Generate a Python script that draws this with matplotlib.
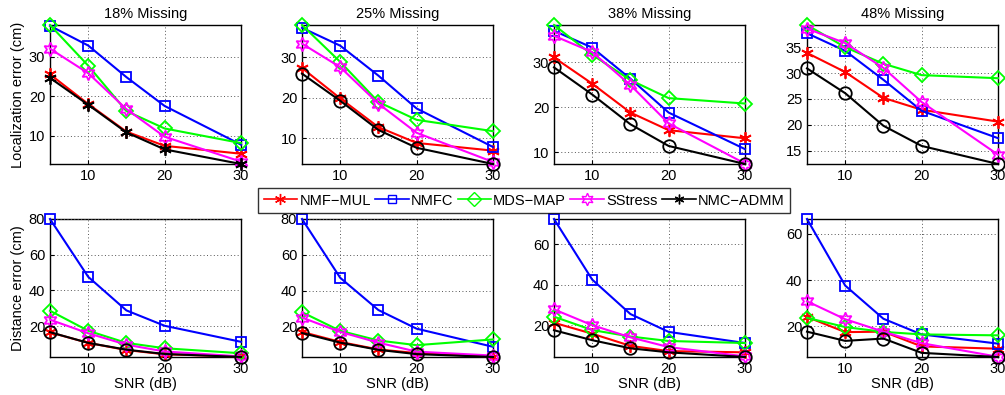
import matplotlib
matplotlib.use("Agg")
import matplotlib.pyplot as plt
from matplotlib.lines import Line2D

plt.rcParams['font.family'] = ['Liberation Sans', 'DejaVu Sans']

snr = [5, 10, 15, 20, 30]
xticks = [10, 20, 30]
titles = ["18% Missing", "25% Missing", "38% Missing", "48% Missing"]
methods = ["NMF\u2212MUL", "NMFC", "MDS\u2212MAP", "SStress", "NMC\u2212ADMM"]

# Localization error (cm), one list per panel: [NMF-MUL, NMFC, MDS-MAP, SStress, NMC-ADMM]
loc_18 = [[25.5, 18.0, 11.0, 7.4, 5.4],
          [37.8, 32.8, 24.8, 17.5, 7.7],
          [38.0, 27.7, 16.2, 11.8, 8.1],
          [32.0, 25.8, 16.7, 9.7, 3.4],
          [24.6, 17.8, 10.8, 6.5, 2.8]]
loc_25 = [[27.4, 19.9, 12.8, 8.9, 7.0],
          [37.3, 32.9, 25.5, 17.4, 7.9],
          [38.0, 28.9, 19.0, 14.6, 11.8],
          [33.4, 27.6, 18.6, 11.4, 4.2],
          [26.0, 19.3, 12.1, 7.7, 3.7]]
loc_38 = [[31.0, 25.2, 18.8, 14.9, 13.1],
          [36.9, 33.2, 26.3, 18.8, 10.7],
          [38.2, 31.6, 26.0, 22.0, 20.8],
          [35.8, 32.2, 24.9, 16.4, 7.5],
          [28.8, 22.8, 16.2, 11.4, 7.4]]
loc_48 = [[33.9, 30.2, 25.2, 22.9, 20.6],
          [37.7, 34.3, 28.7, 22.7, 17.4],
          [39.3, 35.0, 31.8, 29.6, 29.0],
          [38.6, 35.8, 31.0, 24.4, 14.2],
          [30.9, 26.1, 19.8, 15.9, 12.4]]

# Distance error (cm)
dist_18 = [[16.5, 10.6, 6.6, 4.2, 3.0],
           [80.0, 47.6, 28.8, 20.2, 11.2],
           [28.6, 17.4, 10.6, 7.6, 4.8],
           [23.6, 16.0, 9.6, 5.8, 3.0],
           [16.6, 10.6, 6.8, 4.4, 2.7]]
dist_25 = [[17.0, 11.4, 7.2, 5.2, 3.2],
           [80.0, 47.2, 29.2, 18.8, 8.7],
           [28.0, 17.6, 12.2, 9.6, 12.8],
           [25.0, 17.0, 11.0, 6.0, 3.8],
           [16.4, 11.0, 7.0, 4.6, 3.0]]
dist_38 = [[21.2, 15.8, 9.8, 7.2, 6.6],
           [72.4, 42.5, 25.5, 16.7, 11.2],
           [24.2, 17.6, 14.4, 12.2, 11.2],
           [27.8, 20.0, 14.0, 9.2, 4.6],
           [17.5, 12.6, 8.6, 6.6, 4.3]]
dist_48 = [[24.0, 17.4, 17.6, 11.2, 10.2],
           [66.5, 37.6, 23.2, 16.4, 12.4],
           [23.6, 19.6, 17.5, 16.4, 16.0],
           [30.8, 23.0, 17.6, 12.6, 6.7],
           [17.6, 13.6, 14.6, 8.4, 6.6]]

loc_data = [loc_18, loc_25, loc_38, loc_48]
dist_data = [dist_18, dist_25, dist_38, dist_48]
loc_yticks = [[10, 20, 30], [10, 20, 30], [10, 20, 30], [15, 20, 25, 30, 35]]
dist_yticks = [[20, 40, 60, 80], [20, 40, 60, 80], [20, 40, 60], [20, 40, 60]]

colors = ['#ff0000', '#0000ff', '#00ff00', '#ff00ff', '#000000']
asterisk = (6, 2, 0)
hexagram = (6, 1, 0)
markers = [asterisk, 's', 'D', hexagram, 'o']
msizes = [9, 7, 7, 10, 9]

fig = plt.figure(figsize=(10.05, 3.95), dpi=100)
lefts = [50, 302, 554, 807]
W, H = 1005.0, 395.0
aw = 191

def style(ax, yt):
    ax.set_xlim(5, 30)
    ax.set_xticks(xticks)
    ax.set_yticks(yt)
    ax.grid(True, linestyle=(0, (1, 2.5)), color='#555555', linewidth=0.7)
    ax.tick_params(direction='in', length=3, labelsize=10.5, width=0.8)
    for s in ax.spines.values():
        s.set_linewidth(1.0)
        s.set_color('black')
        s.set_zorder(1)

for c in range(4):
    # top row
    ax = fig.add_axes([lefts[c] / W, 1 - 164 / H, aw / W, 139 / H])
    allv = []
    for k in range(5):
        mk = markers[k]
        if k == 4 and c == 0:
            mk = asterisk
        ax.plot(snr, loc_data[c][k], color=colors[k], marker=mk, ms=msizes[k],
                mfc='none', mec=colors[k], mew=1.3, lw=1.5, clip_on=False, zorder=3)
        allv += loc_data[c][k]
    ax.set_ylim(min(allv), max(allv))
    style(ax, loc_yticks[c])
    ax.set_title(titles[c], fontsize=10.5, pad=5)
    if c == 0:
        ax.set_ylabel("Localization error (cm)", fontsize=10.5, labelpad=3)

    # bottom row
    ax2 = fig.add_axes([lefts[c] / W, 1 - 357 / H, aw / W, 138 / H])
    allv = []
    for k in range(5):
        ax2.plot(snr, dist_data[c][k], color=colors[k], marker=markers[k], ms=msizes[k],
                 mfc='none', mec=colors[k], mew=1.3, lw=1.5, clip_on=False, zorder=3)
        allv += dist_data[c][k]
    ax2.set_ylim(min(allv), max(allv))
    style(ax2, dist_yticks[c])
    ax2.set_xlabel("SNR (dB)", fontsize=10.5, labelpad=1)
    if c == 0:
        ax2.set_ylabel("Distance error (cm)", fontsize=10.5, labelpad=3)

leg_markers = [asterisk, 's', 'D', hexagram, asterisk]
leg_ms = [8, 6, 7, 9, 7]
handles = [Line2D([0], [0], color=colors[k], marker=leg_markers[k], ms=leg_ms[k],
                  mfc='none', mec=colors[k], mew=1.0, lw=1.2) for k in range(5)]
leg = fig.legend(handles, methods, loc='center', bbox_to_anchor=(524 / W, 1 - 200.5 / H),
                 ncol=5, fontsize=10.5, frameon=True, fancybox=False, edgecolor='black',
                 handlelength=2.3, handletextpad=0.15, columnspacing=0.3,
                 borderpad=0.4, borderaxespad=0)
leg.get_frame().set_linewidth(1.0)
leg.set_zorder(10)

fig.savefig("out.png", dpi=100)
